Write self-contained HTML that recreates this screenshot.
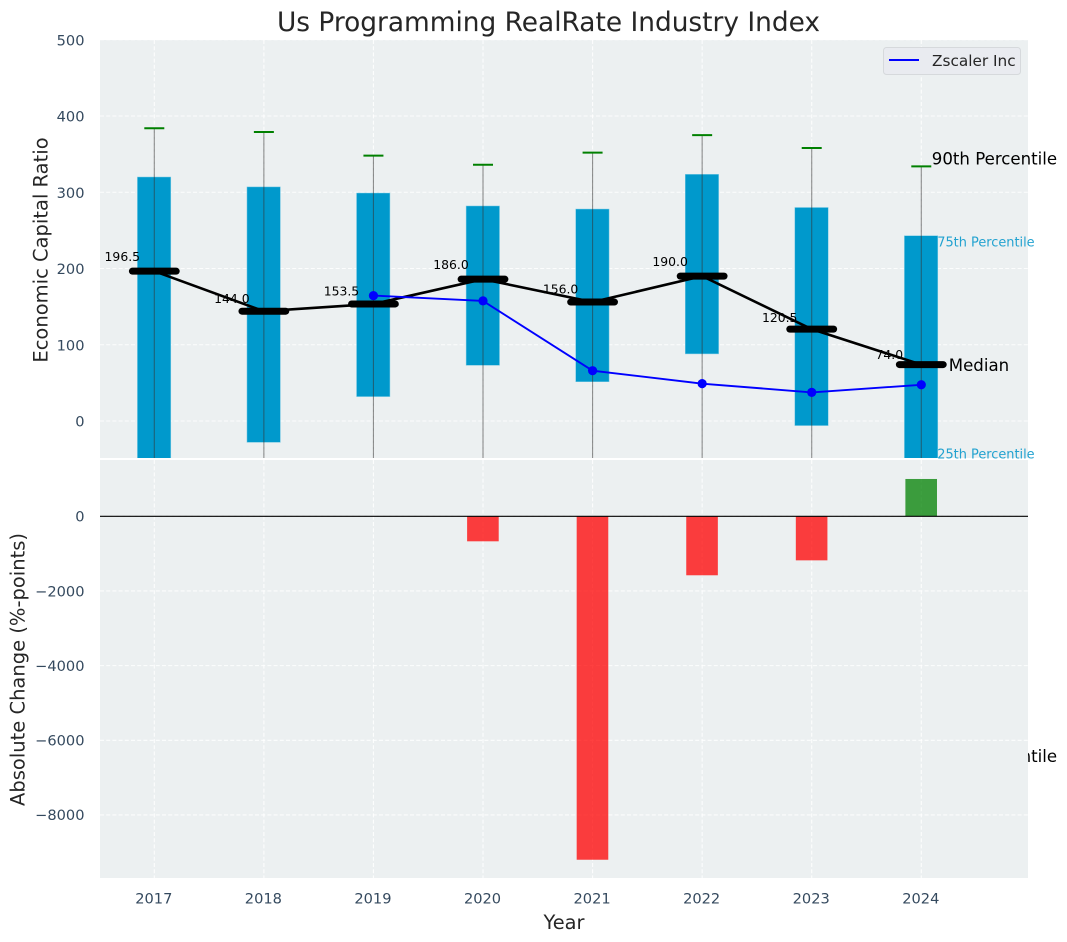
<!DOCTYPE html>
<html lang="en">
<head>
<meta charset="utf-8">
<title>Us Programming RealRate Industry Index</title>
<style>
html,body{margin:0;padding:0;background:#fff;width:1067px;height:942px;overflow:hidden}
svg{display:block;font-family:"DejaVu Sans","Liberation Sans",sans-serif}
</style>
</head>
<body>
<svg id="chart" xmlns="http://www.w3.org/2000/svg" width="1067" height="942" viewBox="0 0 1067 942">
<defs>
<clipPath id="top-clip"><rect x="100" y="40" width="928" height="418"></rect></clipPath>
<clipPath id="bottom-clip"><rect x="100" y="460" width="928" height="418"></rect></clipPath>
</defs>
</svg>
<script>
const years = [2017, 2018, 2019, 2020, 2021, 2022, 2023, 2024];
const p90 = [384, 379, 348, 336, 352, 375, 358, 334];
const p75 = [320, 307, 299, 282, 278, 323.5, 280, 243];
const medians = [196.5, 144.0, 153.5, 186.0, 156.0, 190.0, 120.5, 74.0];
const p25 = [-60, -28, 32, 73, 51.5, 88, -6, -60];
const p10 = [-150, -140, -90, -70, -80, -60, -130, -170];
const zscalerYears = [2019, 2020, 2021, 2022, 2023, 2024];
const zscalerValues = [164.5, 157.5, 66, 49, 37.5, 47.5];
const changeYears = [2020, 2021, 2022, 2023, 2024];
const changeValues = [-670, -9200, -1580, -1180, 1000];
const topTicks = [0, 100, 200, 300, 400, 500];
const bottomTicks = [-8000, -6000, -4000, -2000, 0];

const svg = document.getElementById('chart');
const NS = 'http://www.w3.org/2000/svg';
const xScale = v => 154.3 + (v - 2017) * 109.57;
const yTop = v => 421.0 - v * 0.7625;
const yBottom = v => 516.3 - v * 0.03733;

function make(tag, parent, props) {
  const el = document.createElementNS(NS, tag);
  for (const k in props) el.setAttribute(k, props[k]);
  parent.appendChild(el);
  return el;
}
function label(parent, str, x, y, size, fill, anchor) {
  const el = make('text', parent, {x: x, y: y, 'font-size': size, fill: fill, 'text-anchor': anchor || 'start'});
  el.textContent = str;
  return el;
}
function fmtTick(v) {
  return v < 0 ? '\u2212' + Math.abs(v) : String(v);
}
const gridStyle = {stroke: '#ffffff', 'stroke-width': 1.1, 'stroke-dasharray': '4 2.2', 'stroke-opacity': 0.85};
const tickColor = '#34495e';
const boxColor = '#0099cc';
const tickSize = 14.6;
const noteSize = 16.6;
let el;

/* top panel */
const topPanel = make('g', svg, {});


el = make('rect', topPanel, {x: 100, y: 40, width: 928, height: 418, fill: '#ecf0f1'});



const topClipped = make('g', topPanel, {'clip-path': 'url(#top-clip)'});



topTicks.forEach(t => {
  el = make('line', topClipped, Object.assign({x1: 100, x2: 1028, y1: yTop(t), y2: yTop(t)}, gridStyle));
  
  
  el = label(topPanel, fmtTick(t), 84.5, yTop(t) + 5.7, tickSize, tickColor, 'end');
  
  
});
years.forEach(y => {
  el = make('line', topClipped, Object.assign({x1: xScale(y), x2: xScale(y), y1: 40, y2: 458}, gridStyle));
  
  
});

years.forEach((y, i) => {
  const cx = xScale(y);
  el = make('rect', topClipped, {x: cx - 16.9, y: yTop(p75[i]), width: 33.4, height: yTop(p25[i]) - yTop(p75[i]), fill: boxColor, stroke: '#7fcce5', 'stroke-width': 0.5});
  
  
  el = make('line', topClipped, {x1: cx, x2: cx, y1: yTop(p90[i]), y2: yTop(p10[i]), stroke: '#333333', 'stroke-opacity': 0.55, 'stroke-width': 1.1});
  
  
  el = make('line', topClipped, {x1: cx - 10, x2: cx + 10, y1: yTop(p90[i]), y2: yTop(p90[i]), stroke: '#008000', 'stroke-width': 2});
  
  
});

const medianPts = years.map((y, i) => xScale(y) + ',' + yTop(medians[i])).join(' ');
el = make('polyline', topClipped, {points: medianPts, fill: 'none', stroke: '#000000', 'stroke-width': 2.6});



years.forEach((y, i) => {
  const cx = xScale(y);
  el = make('line', topClipped, {x1: cx - 21.9, x2: cx + 21.9, y1: yTop(medians[i]), y2: yTop(medians[i]), stroke: '#000000', 'stroke-width': 7, 'stroke-linecap': 'round'});
  
  
  el = label(topPanel, medians[i].toFixed(1), cx - 32, yTop(medians[i]) - 2.5 - medians[i] * 0.04, 12.4, '#000000', 'middle');
  
  
});

const zPts = zscalerYears.map((y, i) => xScale(y) + ',' + yTop(zscalerValues[i])).join(' ');
el = make('polyline', topClipped, {points: zPts, fill: 'none', stroke: '#0000ff', 'stroke-width': 1.9});


zscalerYears.forEach((y, i) => {
  el = make('circle', topClipped, {cx: xScale(y), cy: yTop(zscalerValues[i]), r: 4.6, fill: '#0000ff'});
  
  
});

/* percentile annotations sit on the last box year */
const lastIdx = years.length - 1;
const lastX = xScale(years[lastIdx]);
el = label(topPanel, '90th Percentile', lastX + 10.5, yTop(p90[lastIdx]) - 2, noteSize, '#000000');


el = label(topPanel, '75th Percentile', lastX + 16, yTop(p75[lastIdx]) + 11, 12.9, '#22a2d0');


el = label(topPanel, 'Median', lastX + 27.5, yTop(medians[lastIdx]) + 6.3, noteSize, '#000000');


el = label(topPanel, '25th Percentile', lastX + 16, 458.5, 12.9, '#22a2d0');


el = label(topPanel, '10th Percentile', lastX + 10.5, 762, noteSize, '#000000');



/* legend */
const legend = make('g', topPanel, {});


el = make('rect', legend, {x: 883.5, y: 47.5, width: 137, height: 27, rx: 3, fill: '#e9ebf0', stroke: '#d6d9dc', 'stroke-width': 1});


el = make('line', legend, {x1: 889, x2: 919, y1: 60, y2: 60, stroke: '#0000ff', 'stroke-width': 1.9});


el = label(legend, 'Zscaler Inc', 932, 66, 15.3, '#262626');



/* bottom panel */
const bottomPanel = make('g', svg, {});


el = make('rect', bottomPanel, {x: 100, y: 460, width: 928, height: 418, fill: '#ecf0f1'});



const bottomClipped = make('g', bottomPanel, {'clip-path': 'url(#bottom-clip)'});



bottomTicks.forEach(t => {
  el = make('line', bottomClipped, Object.assign({x1: 100, x2: 1028, y1: yBottom(t), y2: yBottom(t)}, gridStyle));
  
  
  el = label(bottomPanel, fmtTick(t), 84.5, yBottom(t) + 5.3, tickSize, tickColor, 'end');
  
  
});
years.forEach(y => {
  el = make('line', bottomClipped, Object.assign({x1: xScale(y), x2: xScale(y), y1: 460, y2: 878}, gridStyle));
  
  
  el = label(bottomPanel, String(y), xScale(y) - 0.5, 903.5, tickSize, tickColor, 'middle');
  
  
});
changeYears.forEach((y, i) => {
  const v = changeValues[i];
  const y0 = yBottom(Math.max(v, 0));
  const y1 = yBottom(Math.min(v, 0));
  el = make('rect', bottomClipped, {x: xScale(y) - 15.9, y: y0, width: 31.6, height: y1 - y0, fill: v < 0 ? '#ff0000' : '#008000', 'fill-opacity': 0.75});
  
  
});
el = make('line', bottomClipped, {x1: 100, x2: 1028, y1: yBottom(0), y2: yBottom(0), stroke: '#000000', 'stroke-width': 1.1});



/* titles */
el = label(svg, 'Us Programming RealRate Industry Index', 548.5, 31, 26.4, '#262626', 'middle');


el = label(svg, 'Year', 564, 929, 19.4, '#262626', 'middle');


el = label(svg, 'Economic Capital Ratio', 0, 0, 19.5, '#262626', 'middle');
el.setAttribute('transform', 'translate(47.5,250) rotate(-90)');


el = label(svg, 'Absolute Change (%-points)', 0, 0, 19.5, '#262626', 'middle');
el.setAttribute('transform', 'translate(24.5,669.5) rotate(-90)');


</script>
</body>
</html>
